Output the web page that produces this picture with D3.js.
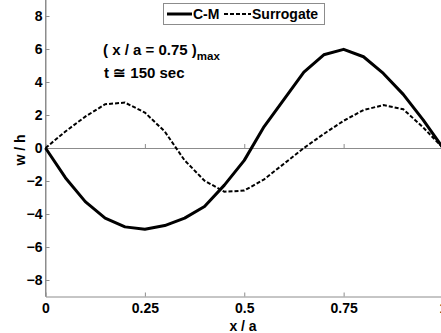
<!DOCTYPE html>
<html>
<head>
<meta charset="utf-8">
<script src="https://cdn.jsdelivr.net/npm/d3@7"></script>
<style>
  body { margin: 0; background: #fff; }
  svg { display: block; font-family: "Liberation Sans", Arial, sans-serif; font-weight: bold; }
</style>
</head>
<body>
<svg id="chart"></svg>
<script>
const xs = [0, 0.05, 0.1, 0.15, 0.2, 0.25, 0.3, 0.35, 0.4, 0.45, 0.5,
            0.55, 0.6, 0.65, 0.7, 0.75, 0.8, 0.85, 0.9, 0.95, 1];
const cm = [0, -1.8, -3.25, -4.25, -4.78, -4.93, -4.7, -4.25, -3.55, -2.25, -0.75,
            1.3, 2.95, 4.6, 5.65, 5.98, 5.53, 4.52, 3.25, 1.7, 0];
const surrogate = [0, 1.0, 1.9, 2.65, 2.75, 2.15, 1.0, -0.75, -1.98, -2.65, -2.58,
                   -1.9, -0.95, 0, 0.85, 1.65, 2.3, 2.6, 2.35, 1.25, 0];
const xTicks = [0, 0.25, 0.5, 0.75, 1];
const xTickLabels = ["0", "0.25", "0.5", "0.75", "1"];
const yTicks = [-8, -6, -4, -2, 0, 2, 4, 6, 8];

const width = 441, height = 333;
const svg = d3.select("#chart").attr("width", width).attr("height", height);

const x = d3.scaleLinear().domain([0, 1]).range([45.5, 443]);
const y = d3.scaleLinear().domain([-9, 9]).range([296.5, -0.5]);
const axisColor = "#8c8c8c";

// bottom axis
const xAxis = svg.append("g")
  .attr("transform", `translate(0,${y(-9)})`)
  .call(d3.axisBottom(x).tickValues(xTicks).tickSizeInner(-4).tickSizeOuter(0)
    .tickFormat((d, i) => xTickLabels[i]));
xAxis.select(".domain").attr("stroke", axisColor);
xAxis.selectAll(".tick line").attr("stroke", axisColor);
xAxis.selectAll("text").attr("y", 7).attr("font-size", 14).attr("font-weight", "bold")
  .attr("font-family", "Liberation Sans, Arial, sans-serif").attr("fill", "#000");

// zero line with its own ticks
const zeroAxis = svg.append("g")
  .attr("transform", `translate(0,${y(0)})`)
  .call(d3.axisBottom(x).tickValues(xTicks).tickSizeInner(-4).tickSizeOuter(0).tickFormat(""));
zeroAxis.select(".domain").attr("stroke", axisColor);
zeroAxis.selectAll(".tick line").attr("stroke", axisColor);

// left axis
const yAxis = svg.append("g")
  .attr("transform", `translate(${x(0)},0)`)
  .call(d3.axisLeft(y).tickValues(yTicks).tickSizeInner(-4).tickSizeOuter(0).tickFormat(d3.format("d")));
yAxis.select(".domain").attr("stroke", axisColor);
yAxis.selectAll(".tick line").attr("stroke", axisColor);
yAxis.selectAll("text").attr("x", -3).attr("font-size", 14).attr("font-weight", "bold")
  .attr("font-family", "Liberation Sans, Arial, sans-serif").attr("fill", "#000");

// extend y axis line to top
svg.append("line")
  .attr("x1", x(0)).attr("x2", x(0)).attr("y1", 0).attr("y2", y(-9))
  .attr("stroke", axisColor);

const line = d3.line().x((d, i) => x(xs[i])).y(d => y(d));

svg.append("path").datum(surrogate)
  .attr("fill", "none").attr("stroke", "#000").attr("stroke-width", 2)
  .attr("stroke-dasharray", "4,2").attr("d", line);

svg.append("path").datum(cm)
  .attr("fill", "none").attr("stroke", "#000").attr("stroke-width", 3)
  .attr("stroke-linejoin", "round").attr("d", line);

// axis titles
svg.append("text").attr("x", 243).attr("y", 331).attr("text-anchor", "middle")
  .attr("font-size", 14).text("x / a");
svg.append("text").attr("transform", "translate(25,150) rotate(-90)")
  .attr("text-anchor", "middle").attr("font-size", 14).text("w / h");

// annotation
const ann = svg.append("text").attr("x", 103).attr("y", 55).attr("font-size", 15);
ann.append("tspan").text("( x / a = 0.75 )");
ann.append("tspan").attr("font-size", 11.5).attr("dy", 5).text("max");
svg.append("text").attr("x", 104).attr("y", 78).attr("font-size", 15).text("t \u2245 150 sec");

// legend
const lg = svg.append("g");
lg.append("rect").attr("x", 163.5).attr("y", 3.5).attr("width", 161).attr("height", 21)
  .attr("fill", "#fff").attr("stroke", axisColor);
lg.append("line").attr("x1", 167).attr("x2", 192).attr("y1", 14).attr("y2", 14)
  .attr("stroke", "#000").attr("stroke-width", 3);
lg.append("text").attr("x", 193).attr("y", 19).attr("font-size", 14).text("C-M");
lg.append("line").attr("x1", 224).attr("x2", 251).attr("y1", 14).attr("y2", 14)
  .attr("stroke", "#000").attr("stroke-width", 2).attr("stroke-dasharray", "4,2");
lg.append("text").attr("x", 252).attr("y", 19).attr("font-size", 14).text("Surrogate");
</script>
</body>
</html>
